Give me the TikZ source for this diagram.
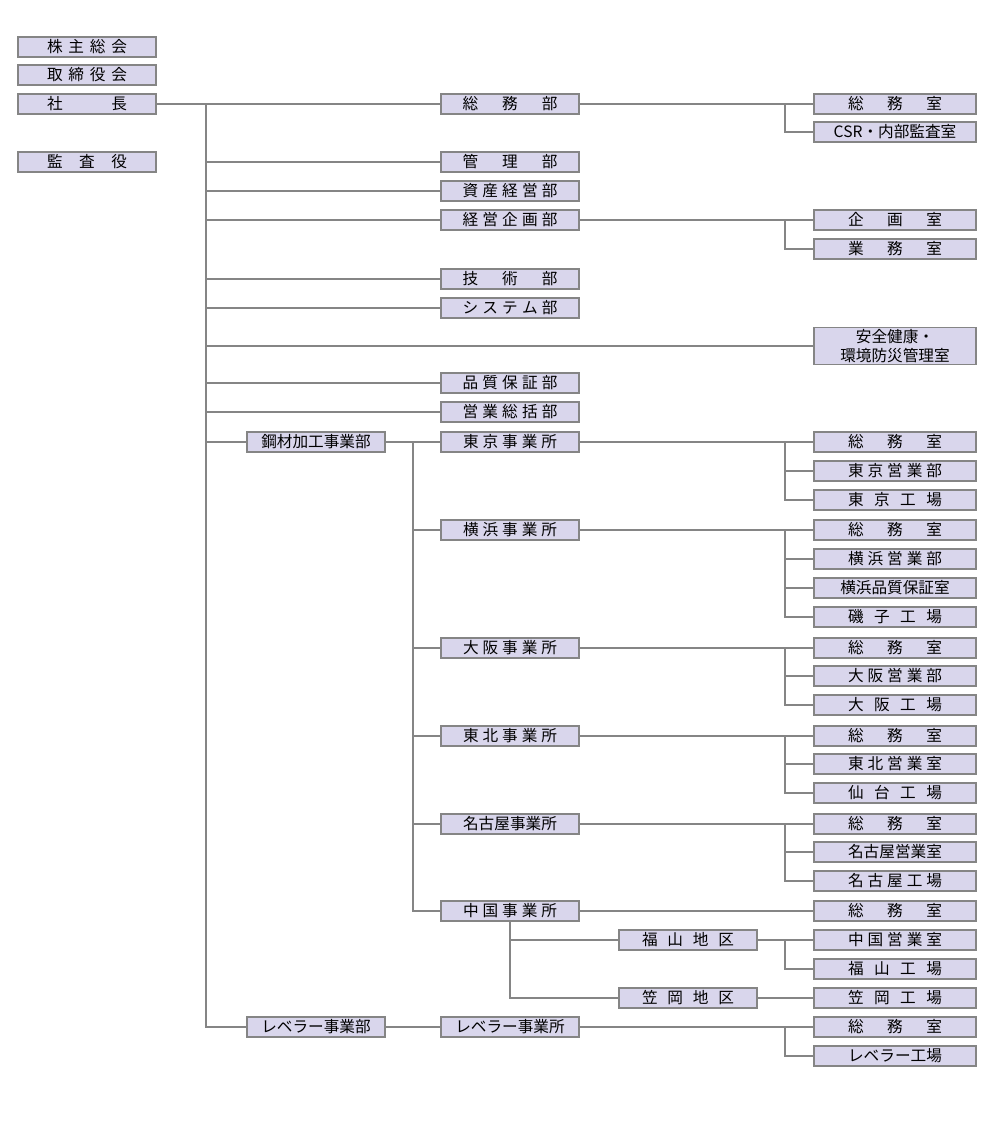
\documentclass[tikz,border=0pt]{standalone}
\usepackage{fontspec}
\newfontfamily\jp{Noto Sans CJK JP}
\usepackage{tikz}
\usetikzlibrary{positioning}
\definecolor{boxfill}{HTML}{D9D6EC}
\definecolor{linegray}{HTML}{858585}
\newcommand{\spread}[2]{\makebox[#1][s]{#2}}

\begin{document}
\begin{tikzpicture}[x=0.02cm,y=-0.02cm,
  every node/.style={draw=linegray,fill=boxfill,line width=0.6pt,inner sep=0pt,
    minimum height=0.4cm,font=\jp\fontsize{8.9}{10.5}\selectfont},
  box/.style={minimum width=2.76cm},
  wide/.style={minimum width=3.24cm},
  link/.style={draw=linegray,line width=0.6pt}
]
\useasboundingbox (0,0) rectangle (1000,1146);

% left column
\node[box] (kabunushi) at (87,47) {\spread{1.6cm}{株 主 総 会}};
\node[box] (torishimari) at (87,75) {\spread{1.6cm}{取 締 役 会}};
\node[box] (shacho) at (87,104) {\spread{1.6cm}{社 長}};
\node[box] (kansa) at (87,162) {\spread{1.6cm}{監 査 役}};

% divisions
\node[box] (kozaibu) at (316,442) {鋼材加工事業部};
\node[box] (leverbu) at (316,1027) {レベラー事業部};

% departments and offices
\node[box] (soumubu) at (510,104) {\spread{1.9cm}{総 務 部}};
\node[box] (kanribu) at (510,162) {\spread{1.9cm}{管 理 部}};
\node[box] (shisanbu) at (510,191) {\spread{1.9cm}{資 産 経 営 部}};
\node[box] (keieibu) at (510,220) {\spread{1.9cm}{経 営 企 画 部}};
\node[box] (gijutsubu) at (510,279) {\spread{1.9cm}{技 術 部}};
\node[box] (systembu) at (510,308) {\spread{1.9cm}{シ ス テ ム 部}};
\node[box] (hinshitsubu) at (510,383) {\spread{1.9cm}{品 質 保 証 部}};
\node[box] (eigyobu) at (510,412) {\spread{1.9cm}{営 業 総 括 部}};
\node[box] (tokyo) at (510,442) {\spread{1.88cm}{東 京 事 業 所}};
\node[box] (yokohama) at (510,530) {\spread{1.88cm}{横 浜 事 業 所}};
\node[box] (osaka) at (510,648) {\spread{1.88cm}{大 阪 事 業 所}};
\node[box] (tohoku) at (510,736) {\spread{1.88cm}{東 北 事 業 所}};
\node[box] (nagoya) at (510,824) {名古屋事業所};
\node[box] (chugoku) at (510,911) {\spread{1.88cm}{中 国 事 業 所}};
\node[box] (lever) at (510,1027) {レベラー事業所};

% areas
\node[box] (fukuyama) at (688,940) {\spread{1.84cm}{福 山 地 区}};
\node[box] (kasaoka) at (688,998) {\spread{1.84cm}{笠 岡 地 区}};

% right column
\node[wide] (soumu) at (895,104) {\spread{1.88cm}{総 務 室}};
\node[wide] (csr) at (895,132) {CSR・内部監査室};
\node[wide] (kikaku) at (895,220) {\spread{1.88cm}{企 画 室}};
\node[wide] (gyomu) at (895,249) {\spread{1.88cm}{業 務 室}};
\node[wide,minimum height=0.74cm,align=center] (anzen) at (895,346) {安全健康・\\環境防災管理室};
\node[wide] (tokyoS) at (895,442) {\spread{1.88cm}{総 務 室}};
\node[wide] (tokyoE) at (895,471) {\spread{1.88cm}{東 京 営 業 部}};
\node[wide] (tokyoK) at (895,500) {\spread{1.88cm}{東 京 工 場}};
\node[wide] (yokoS) at (895,530) {\spread{1.88cm}{総 務 室}};
\node[wide] (yokoE) at (895,559) {\spread{1.88cm}{横 浜 営 業 部}};
\node[wide] (yokoH) at (895,588) {横浜品質保証室};
\node[wide] (yokoK) at (895,617) {\spread{1.88cm}{磯 子 工 場}};
\node[wide] (osakaS) at (895,648) {\spread{1.88cm}{総 務 室}};
\node[wide] (osakaE) at (895,676) {\spread{1.88cm}{大 阪 営 業 部}};
\node[wide] (osakaK) at (895,705) {\spread{1.88cm}{大 阪 工 場}};
\node[wide] (tohokuS) at (895,736) {\spread{1.88cm}{総 務 室}};
\node[wide] (tohokuE) at (895,764) {\spread{1.88cm}{東 北 営 業 室}};
\node[wide] (tohokuK) at (895,793) {\spread{1.88cm}{仙 台 工 場}};
\node[wide] (nagoyaS) at (895,824) {\spread{1.88cm}{総 務 室}};
\node[wide] (nagoyaE) at (895,852) {名古屋営業室};
\node[wide] (nagoyaK) at (895,881) {\spread{1.88cm}{名 古 屋 工 場}};
\node[wide] (chugokuS) at (895,911) {\spread{1.88cm}{総 務 室}};
\node[wide] (chugokuE) at (895,940) {\spread{1.88cm}{中 国 営 業 室}};
\node[wide] (fukuyamaK) at (895,969) {\spread{1.88cm}{福 山 工 場}};
\node[wide] (kasaokaK) at (895,998) {\spread{1.88cm}{笠 岡 工 場}};
\node[wide] (leverS) at (895,1027) {\spread{1.88cm}{総 務 室}};
\node[wide] (leverK) at (895,1056) {レベラー工場};

\coordinate (trunk) at (206,104);
\coordinate (kozaiJoint) at (413,442);
\coordinate (bx) at (785,104);

% main trunk
\draw[link] (shacho) -- (soumubu);
\draw[link] (trunk) |- (leverbu.west);
\foreach \n in {kanribu,shisanbu,keieibu,gijutsubu,systembu,anzen,hinshitsubu,eigyobu,kozaibu}
  \draw[link] (trunk |- \n.west) -- (\n.west);

% offices under the division
\draw[link] (kozaibu) -- (tokyo);
\draw[link] (kozaiJoint) |- (chugoku.west);
\foreach \n in {yokohama,osaka,tohoku,nagoya}
  \draw[link] (kozaiJoint |- \n.west) -- (\n.west);
\draw[link] (leverbu) -- (lever);

% rooms
\foreach \p/\f/\l in {soumubu/soumu/csr,keieibu/kikaku/gyomu,tokyo/tokyoS/tokyoK,
    yokohama/yokoS/yokoK,osaka/osakaS/osakaK,tohoku/tohokuS/tohokuK,
    nagoya/nagoyaS/nagoyaK,fukuyama/chugokuE/fukuyamaK,lever/leverS/leverK}{
  \draw[link] (\p) -- (\f);
  \draw[link] (bx |- \p.east) |- (\l.west);
}
\foreach \n in {tokyoE,yokoE,yokoH,osakaE,tohokuE,nagoyaE}
  \draw[link] (bx |- \n.west) -- (\n.west);

% chugoku
\draw[link] (chugoku) -- (chugokuS);
\draw[link] (chugoku.south) |- (kasaoka.west);
\draw[link] (chugoku.south |- fukuyama.west) -- (fukuyama.west);
\draw[link] (kasaoka) -- (kasaokaK);
\end{tikzpicture}
\end{document}
